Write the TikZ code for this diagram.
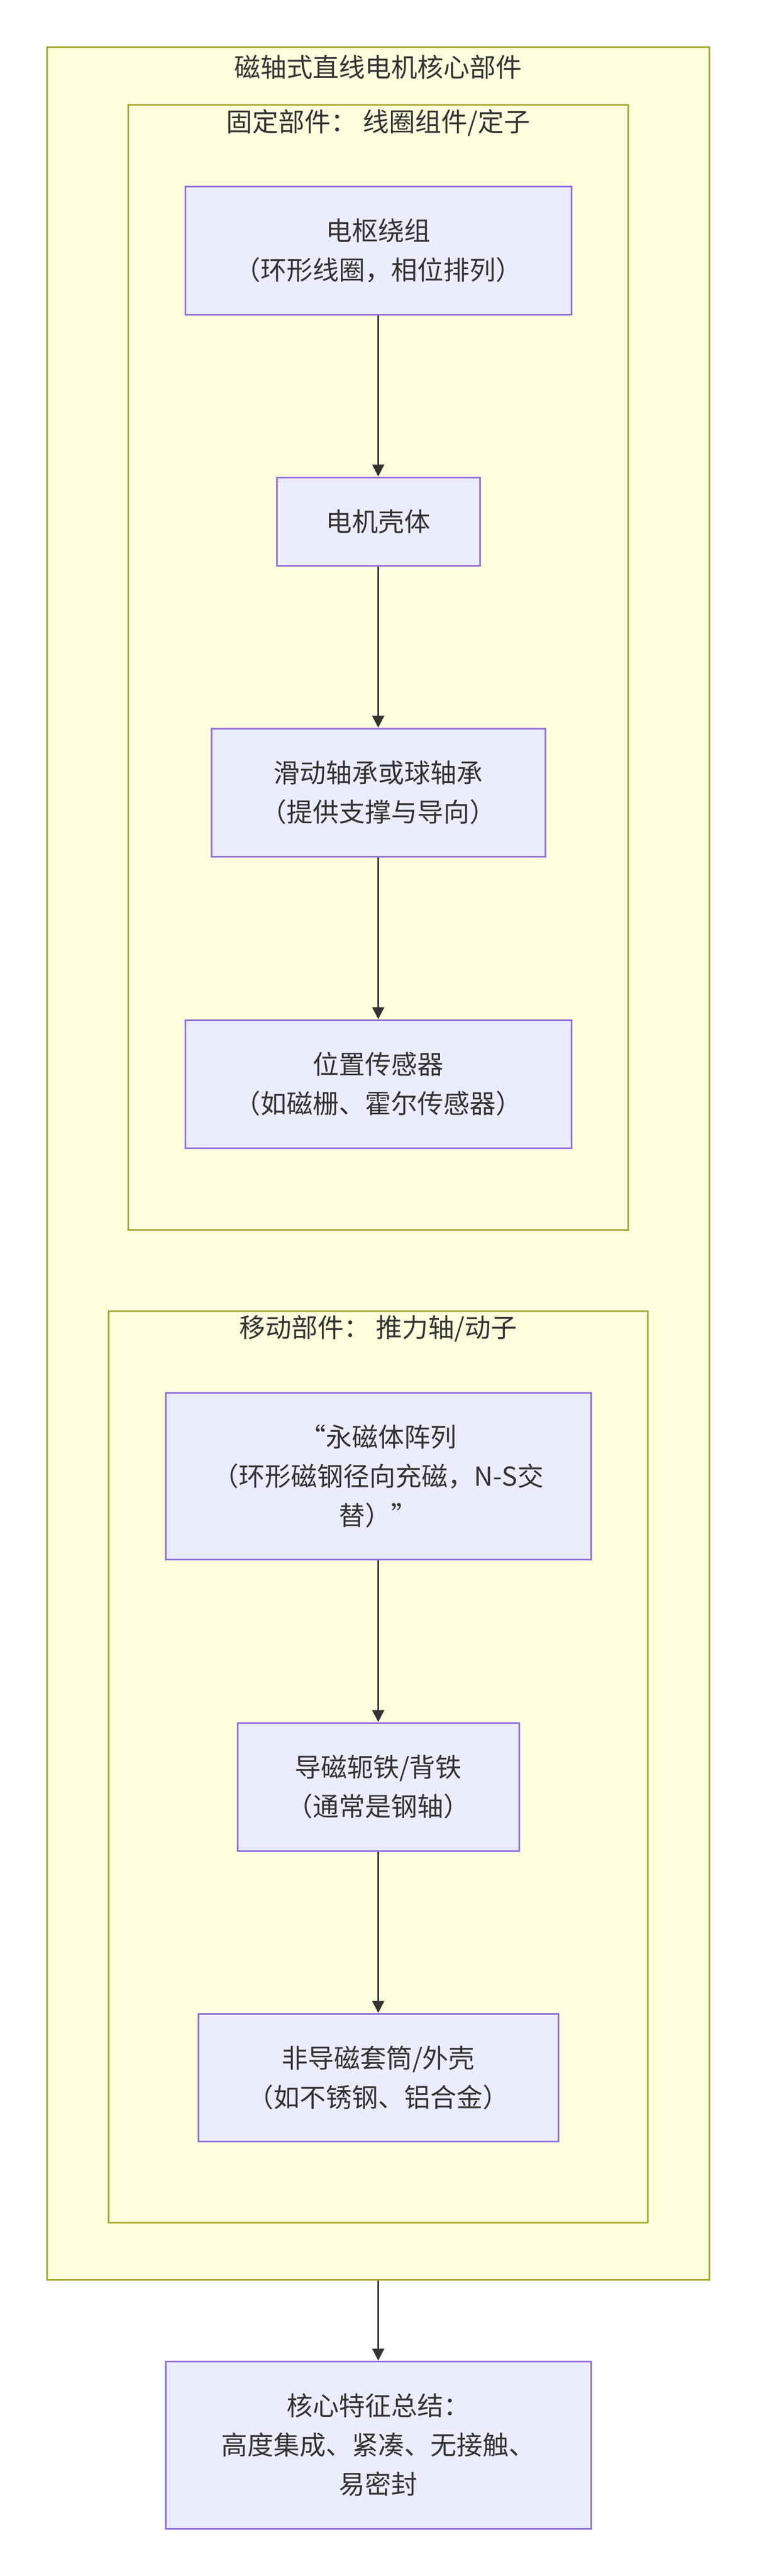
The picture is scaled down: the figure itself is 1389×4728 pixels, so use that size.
\documentclass[tikz,border=0pt]{standalone}
\usepackage{fontspec}
\newfontfamily\cjk{Noto Sans CJK SC}
\usetikzlibrary{arrows.meta}
\definecolor{groupfill}{HTML}{FFFFDE}
\definecolor{groupline}{HTML}{AAAA33}
\definecolor{partfill}{HTML}{ECECFF}
\definecolor{partline}{HTML}{9370DB}
\definecolor{ink}{HTML}{333333}
\tikzset{
  group/.style={draw=groupline, fill=groupfill, line width=1.5pt, inner sep=0pt},
  grouptitle/.style={text=ink, inner sep=0pt, font=\cjk\fontsize{24}{36}\selectfont},
  part/.style={draw=partline, fill=partfill, line width=1.5pt, inner sep=0pt,
    align=center, text=ink, font=\cjk\fontsize{24}{36}\selectfont},
  link/.style={draw=ink, line width=1.5pt, ->}
}
\begin{document}
\begin{tikzpicture}[x=0.5pt, y=-0.5pt, >={Triangle[length=11pt,width=11pt]}]
\pgfmathsetmacro\cx{694.5}
\useasboundingbox (0,0) rectangle (1389,4728);
% clusters
\node[group, minimum width=608pt, minimum height=2049pt] (core) at (\cx,2135) {};
\node[group, minimum width=459pt, minimum height=1032.5pt] (stator) at (\cx,1224.5) {};
\node[group, minimum width=495pt, minimum height=836.5pt] (mover) at (\cx,3242.5) {};
\node[grouptitle] (coretitle) at (\cx,123) {磁轴式直线电机核心部件};
\node[grouptitle] (statortitle) at (\cx,225) {固定部件： 线圈组件/定子};
\node[grouptitle] (movertitle) at (\cx,2439) {移动部件： 推力轴/动子};
% stator parts
\node[part, minimum width=354.5pt, minimum height=117.5pt] (winding) at (\cx,459.5) {电枢绕组\\（环形线圈，相位排列）};
\node[part, minimum width=186.5pt, minimum height=81pt] (housing) at (\cx,957) {电机壳体};
\node[part, minimum width=306.5pt, minimum height=117.5pt] (bearing) at (\cx,1454.5) {滑动轴承或球轴承\\（提供支撑与导向）};
\node[part, minimum width=354.5pt, minimum height=117.5pt] (sensor) at (\cx,1989.5) {位置传感器\\（如磁栅、霍尔传感器）};
% mover parts
\node[part, minimum width=390.5pt, minimum height=153pt] (magnet) at (\cx,2709) {“永磁体阵列\\（环形磁钢径向充磁，N-S交\\替）”};
\node[part, minimum width=258.5pt, minimum height=117.5pt] (yoke) at (\cx,3279.5) {导磁轭铁/背铁\\（通常是钢轴）};
\node[part, minimum width=330.5pt, minimum height=117pt] (sleeve) at (\cx,3813) {非导磁套筒/外壳\\（如不锈钢、铝合金）};
% summary
\node[part, minimum width=390.5pt, minimum height=153.5pt] (summary) at (\cx,4487.5) {核心特征总结：\\高度集成、紧凑、无接触、\\易密封};
\draw[link] (winding) -- (housing);
\draw[link] (housing) -- (bearing);
\draw[link] (bearing) -- (sensor);
\draw[link] (magnet) -- (yoke);
\draw[link] (yoke) -- (sleeve);
\draw[link] (core) -- (summary);
\end{tikzpicture}
\end{document}
